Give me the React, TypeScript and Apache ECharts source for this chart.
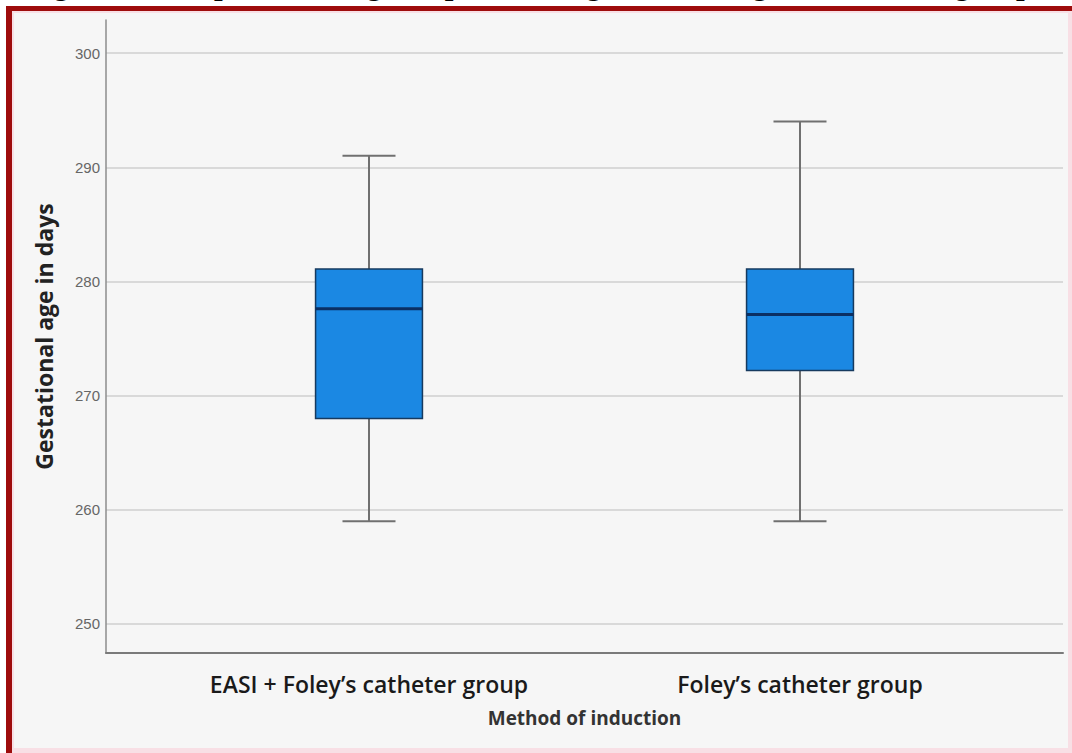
import React, { useEffect, useRef } from "react";
import * as echarts from "echarts";

const categories = ["EASI + Foley’s catheter group", "Foley’s catheter group"];
const lowWhisker = [259, 259];
const q1 = [268, 272.2];
const median = [277.6, 277.1];
const q3 = [281.1, 281.1];
const highWhisker = [291, 294];
const yMin = 247.46;
const yMax = 302.9;
const titleText =
  "Figure 3: Box plot showing comparison of gestational age between the groups";

export default function App() {
  const ref = useRef<HTMLDivElement>(null);
  useEffect(() => {
    if (!ref.current) return;
    const chart = echarts.init(ref.current, undefined, { renderer: "svg" });
    const data = categories.map((c, i) => [
      i,
      lowWhisker[i],
      q1[i],
      median[i],
      q3[i],
      highWhisker[i],
    ]);
    const whisker = { stroke: "#707070", lineWidth: 2 };
    chart.setOption({
      animation: false,
      backgroundColor: "#ffffff",
      graphic: [
        {
          type: "text",
          x: 26,
          y: -1.5,
          z: -10,
          silent: true,
          style: {
            text: titleText,
            font: 'bold 31px "Liberation Serif"',
            fill: "#000000",
            verticalAlign: "bottom",
          },
        },
        {
          type: "rect",
          z: -9,
          silent: true,
          shape: { x: 6, y: 6, width: 1066, height: 747 },
          style: { fill: "#9e0c0c" },
        },
        {
          type: "rect",
          z: -8,
          silent: true,
          shape: { x: 12, y: 11, width: 1060, height: 742 },
          style: { fill: "#f8dfe5" },
        },
        {
          type: "rect",
          z: -7,
          silent: true,
          shape: { x: 14, y: 13, width: 1054, height: 735 },
          style: { fill: "#f6f6f6" },
        },
      ],
      grid: [
        { left: 106, right: 9, top: 20, bottom: 100 },
        { left: 153.5, right: 56.5, top: 20, bottom: 100 },
      ],
      xAxis: [
        {
          gridIndex: 0,
          type: "category",
          data: categories,
          axisLine: { show: true, lineStyle: { color: "#7a7a7a", width: 2 } },
          axisTick: { show: false },
          axisLabel: { show: false },
          splitLine: { show: false },
        },
        {
          gridIndex: 1,
          type: "category",
          data: categories,
          axisLine: { show: false },
          axisTick: { show: false },
          splitLine: { show: false },
          axisLabel: {
            margin: 19,
            fontSize: 23,
            fontFamily: "Open Sans",
            fontWeight: 600,
            color: "#1a1a1a",
          },
          name: "Method of induction",
          nameLocation: "middle",
          nameGap: 55,
          nameTextStyle: {
            fontSize: 19,
            fontFamily: "Open Sans",
            fontWeight: 700,
            color: "#333333",
          },
        },
      ],
      yAxis: [
        {
          gridIndex: 0,
          type: "value",
          min: yMin,
          max: yMax,
          minInterval: 10,
          maxInterval: 10,
          axisLine: { show: true, lineStyle: { color: "#8c8c8c", width: 1.5 } },
          axisTick: { show: false },
          axisLabel: {
            margin: 6,
            fontSize: 15,
            fontFamily: "Liberation Sans",
            color: "#666666",
            formatter: (v: number) =>
              Math.abs(v - Math.round(v / 10) * 10) < 1e-6 ? String(Math.round(v)) : "",
          },
          splitLine: {
            show: true,
            showMinLine: false,
            showMaxLine: false,
            lineStyle: { color: "#d9d9d9", width: 2 },
          },
          name: "Gestational age in days",
          nameLocation: "middle",
          nameGap: 51,
          nameTextStyle: {
            fontSize: 23,
            fontFamily: "Open Sans",
            fontWeight: 700,
            color: "#222222",
          },
        },
        {
          gridIndex: 1,
          type: "value",
          min: yMin,
          max: yMax,
          show: false,
        },
      ],
      series: [
        {
          type: "custom",
          xAxisIndex: 1,
          yAxisIndex: 1,
          encode: { x: 0, y: [1, 2, 3, 4, 5] },
          data,
          renderItem: (params: any, api: any) => {
            const idx = api.value(0);
            const lo = api.coord([idx, api.value(1)]);
            const b1 = api.coord([idx, api.value(2)]);
            const md = api.coord([idx, api.value(3)]);
            const b3 = api.coord([idx, api.value(4)]);
            const hi = api.coord([idx, api.value(5)]);
            const band = api.size([1, 0])[0];
            const half = band * 0.124;
            const cap = band * 0.0615;
            const x = md[0];
            return {
              type: "group",
              children: [
                { type: "line", shape: { x1: x, y1: hi[1], x2: x, y2: b3[1] }, style: whisker },
                { type: "line", shape: { x1: x, y1: b1[1], x2: x, y2: lo[1] }, style: whisker },
                { type: "line", shape: { x1: x - cap, y1: hi[1], x2: x + cap, y2: hi[1] }, style: whisker },
                { type: "line", shape: { x1: x - cap, y1: lo[1], x2: x + cap, y2: lo[1] }, style: whisker },
                {
                  type: "rect",
                  shape: { x: x - half, y: b3[1], width: 2 * half, height: b1[1] - b3[1] },
                  style: { fill: "#1b88e3", stroke: "#163a5f", lineWidth: 1.5 },
                },
                {
                  type: "line",
                  shape: { x1: x - half, y1: md[1], x2: x + half, y2: md[1] },
                  style: { stroke: "#0b2f63", lineWidth: 3 },
                },
              ],
            };
          },
        },
      ],
    });
    return () => chart.dispose();
  }, []);
  return (
    <div
      ref={ref}
      style={{ position: "fixed", left: 0, top: 0, width: 1072, height: 753 }}
    />
  );
}
